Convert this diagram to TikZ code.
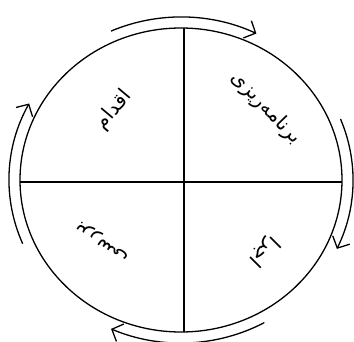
\documentclass[tikz,border=0pt]{standalone}
\usepackage{fontspec}
\newfontfamily\fafont[Script=Arabic]{DejaVu Sans}
\TeXXeTstate=1
\usetikzlibrary{arrows.meta,calc}
\begin{document}
\begin{tikzpicture}[x=1pt,y=1pt,
  rim/.style={line width=1.3pt},
  cyclearrow/.style={line width=1.3pt,-{Straight Barb[length=9pt,width=19pt,line width=1.3pt]}},
  label/.style={font=\fafont\fontsize{20}{24}\selectfont, inner sep=0pt}]
\useasboundingbox (0,0) rectangle (354,341);
\coordinate (c) at (181,161);
% main circle
\draw[rim] (c) ellipse[x radius=161, y radius=152];
% dividers
\coordinate (vt) at (184,313);
\coordinate (vb) at (184,9);
\coordinate (hl) at (19.7,159);
\coordinate (hr) at (341.8,159);
\draw[rim] (vt) -- (vb);
\draw[rim] (hl) -- (hr);
% cycle arrows
\draw[cyclearrow] ($(c)+(114:172 and 163)$) arc[start angle=114, end angle=64, x radius=172, y radius=163];
\draw[cyclearrow] ($(c)+(22:172 and 163)$) arc[start angle=22, end angle=-25, x radius=172, y radius=163];
\draw[cyclearrow] ($(c)+(-61:172 and 163)$) arc[start angle=-61, end angle=-114, x radius=172, y radius=163];
\draw[cyclearrow] ($(c)+(203:172 and 163)$) arc[start angle=203, end angle=152, x radius=172, y radius=163];
% labels
\node[label, rotate=-46] (plan) at (266,233) {\beginR برنامه‌ریزی\endR};
\node[label, rotate=50] (act) at (114,231) {\beginR اقدام\endR};
\node[label, rotate=145] (check) at (103,100) {\beginR بررسی\endR};
\node[label, rotate=225] (do) at (264,90) {\beginR اجرا\endR};
\end{tikzpicture}
\end{document}
